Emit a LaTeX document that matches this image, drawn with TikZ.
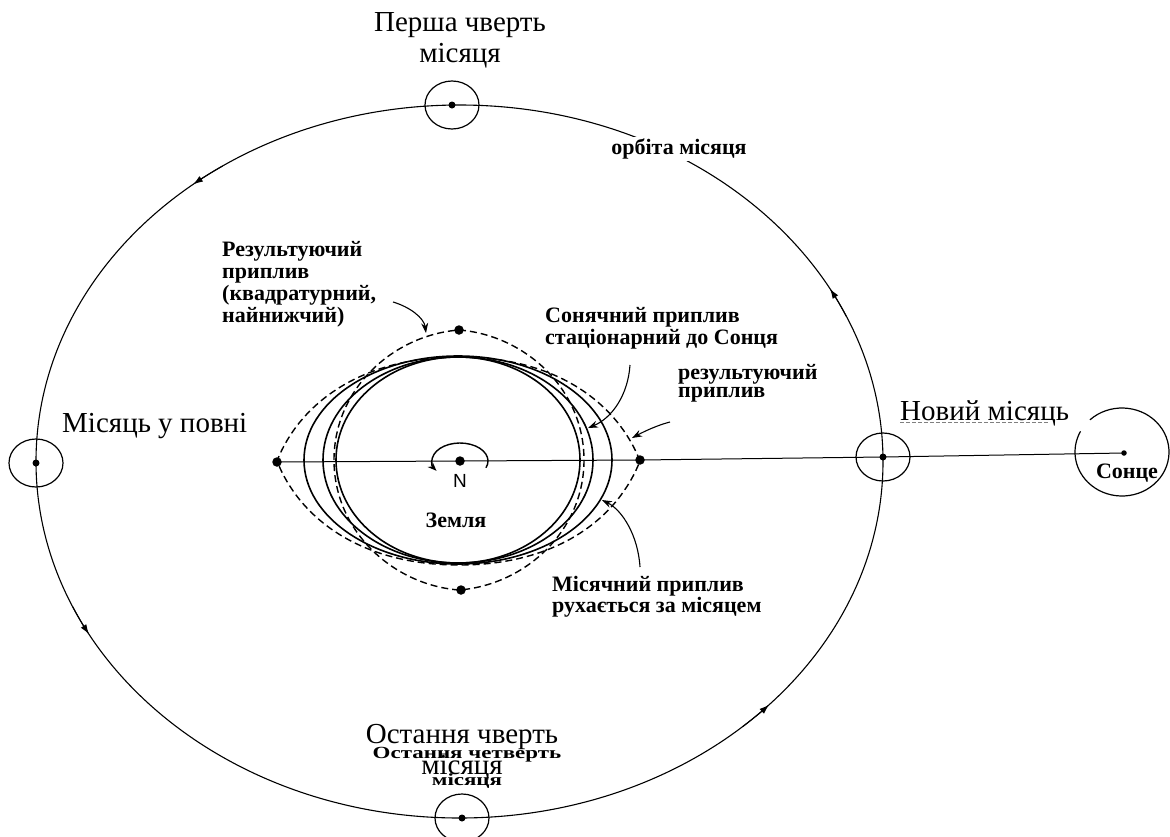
\documentclass[tikz,border=0pt]{standalone}
\usepackage{fontspec}
\setmainfont{Liberation Serif}
\newfontfamily\sansN{Liberation Sans}
\usetikzlibrary{arrows.meta,calc,shapes.geometric}

\begin{document}
\begin{tikzpicture}[x=1pt,y=-1pt,
  orbitline/.style={line width=1.1pt},
  bodyline/.style={line width=1.6pt},
  tideline/.style={line width=1.4pt, dash pattern=on 7pt off 4pt},
  axisline/.style={line width=1pt},
  bigdot/.style={circle, fill=black, inner sep=0pt, minimum size=9.5pt},
  moondot/.style={circle, fill=black, inner sep=0pt, minimum size=7pt},
  moonring/.style={ellipse, draw, line width=1.2pt, inner sep=0pt, minimum width=54pt, minimum height=48pt},
  biglabel/.style={font=\fontsize{29}{31}\selectfont, align=center, inner sep=0pt},
  boldlabel/.style={font=\fontsize{22}{22}\selectfont\bfseries, align=left, inner sep=0pt},
  pointer/.style={line width=1.1pt, -{Stealth[length=10pt,width=7pt]}},
  flowtip/.style={line width=1pt, -{Latex[length=10pt,width=6.5pt]}}
]
\useasboundingbox (0,0) rectangle (1170,836);

% moon orbit
\coordinate (O) at (459.5,461.5);
\draw[orbitline] (O) ellipse[x radius=423.5, y radius=356.5];
% direction of the moon along its orbit
\draw[flowtip] ([shift={(-124:423.5 and 356.5)}]O) arc[start angle=-124, end angle=-129, x radius=423.5, y radius=356.5];
\draw[flowtip] ([shift={(156:423.5 and 356.5)}]O) arc[start angle=156, end angle=151, x radius=423.5, y radius=356.5];
\draw[flowtip] ([shift={(48:423.5 and 356.5)}]O) arc[start angle=48, end angle=43, x radius=423.5, y radius=356.5];
\draw[flowtip] ([shift={(-24:423.5 and 356.5)}]O) arc[start angle=-24, end angle=-29, x radius=423.5, y radius=356.5];

% orbit label sits on a white patch that cuts the orbit
\node[boldlabel, fill=white, inner sep=2pt] (orbl) at (679,149) {орбіта місяця};

% the Earth and its tides
\coordinate (E) at (458,460);
\draw[bodyline] (E) ellipse[x radius=122, y radius=103];
\draw[bodyline] (E) ellipse[x radius=135, y radius=103];
\draw[bodyline] (E) ellipse[x radius=154, y radius=104];

% resultant tide along the Sun-Moon line (pointed ends)
\draw[tideline] (640,461) .. controls (618,405) and (559,357) .. (459,357)
  .. controls (359,357) and (299,405) .. (277,461)
  .. controls (299,517) and (359,565) .. (459,565)
  .. controls (559,565) and (618,517) .. (640,461) -- cycle;
% resultant tide at quadrature
\draw[tideline] (459,330) .. controls (524,335) and (584,388) .. (584,460)
  .. controls (584,532) and (524,585) .. (459,590)
  .. controls (394,585) and (334,532) .. (334,460)
  .. controls (334,388) and (394,335) .. (459,330) -- cycle;

% points on the Earth - Moon - Sun line
\node[bigdot] (dL) at (277,462) {};
\node[bigdot] (dE) at (460,461) {};
\node[bigdot] (dR) at (640,460) {};
\node[bigdot] (dT) at (459,330) {};
\node[bigdot] (dB) at (461,590) {};

% moons at four phases
\node[moonring] (mTop) at (452,105) {};
\node[moonring] (mLeft) at (36,463) {};
\node[moonring] (mRight) at (883,457) {};
\node[moonring] (mBot) at (462,818) {};
\node[moondot] (cTop) at (mTop) {};
\node[moondot] (cLeft) at (mLeft) {};
\node[moondot] (cRight) at (mRight) {};
\node[moondot] (cBot) at (mBot) {};

% the Sun
\coordinate (S) at (1122,452);
\draw[line width=1.2pt] ([shift={(-133:47 and 44)}]S) arc[start angle=-133, end angle=208, x radius=47, y radius=44];
\node[circle, fill=black, inner sep=0pt, minimum size=5.5pt] (sunc) at (1124,453) {};

\draw[axisline] (dL.center) -- (dE.center) -- (dR.center) -- (cRight.center) -- (sunc.center);

% Earth rotation
\draw[line width=1.4pt, -{Stealth[length=9pt,width=7pt]}] ([shift={(22:28 and 18)}]dE.center) arc[start angle=22, end angle=-213, x radius=28, y radius=18];
\node[font=\sansN\fontsize{19}{19}\selectfont, inner sep=0pt] (north) at (460,481) {N};
\node[font=\fontsize{22}{22}\selectfont\bfseries, inner sep=0pt] (earth) at (456,520) {Земля};
\node[font=\fontsize{22}{22}\selectfont\bfseries, inner sep=0pt] (sun) at (1127,473) {Сонце};

% phase labels
\node[biglabel, anchor=north] (lFirst) at (460,12) {Перша чверть\\місяця};
\node[biglabel, anchor=base west] (lFull) at (62,432) {Місяць у повні};
\node[biglabel, anchor=base west] (lNew) at (900,420) {Новий місяць};
\draw[line width=0.6pt, gray, dash pattern=on 4pt off 2pt] ([yshift=4pt]lNew.south west) coordinate (uA) -- ([xshift=-20pt,yshift=4pt]lNew.south east) coordinate (uB);
\node[biglabel, anchor=north] (lLast) at (462,724) {Остання чверть\\місяця};
\node[font=\fontsize{17}{27}\selectfont\bfseries, align=center, inner sep=0pt, anchor=north] (lLastB) at (467,747) {\scalebox{1.35}[1]{Остання четверть}\\\scalebox{1.35}[1]{місяця}};

% tide labels
\node[boldlabel, anchor=north west] (lQuad) at (222,241) {Результуючий\\приплив\\(квадратурний,\\найнижчий)};
\node[boldlabel, anchor=north west] (lSolar) at (545,307) {Сонячний приплив\\стаціонарний до Сонця};
\node[boldlabel, anchor=north west, font=\fontsize{22}{18}\selectfont\bfseries] (lRes) at (678,364) {результуючий\\приплив};
\node[boldlabel, anchor=north west, font=\fontsize{22}{19}\selectfont\bfseries] (lLunar) at (552,576) {Місячний приплив\\рухається за місяцем};

% pointers from the tide labels
\coordinate (qA) at (393,302);  \coordinate (qB) at (426,333);
\coordinate (sA) at (630,365);  \coordinate (sB) at (588,428);
\coordinate (rA) at (670,422);  \coordinate (rB) at (632,438);
\coordinate (lA) at (640,567);  \coordinate (lB) at (602,500);
\draw[pointer] (qA) .. controls (410,307) and (424,318) .. (qB);
\draw[pointer] (sA) .. controls (628,395) and (612,418) .. (sB);
\draw[pointer] (rA) .. controls (658,425) and (645,431) .. (rB);
\draw[pointer] (lA) .. controls (638,535) and (622,510) .. (lB);
\end{tikzpicture}
\end{document}
